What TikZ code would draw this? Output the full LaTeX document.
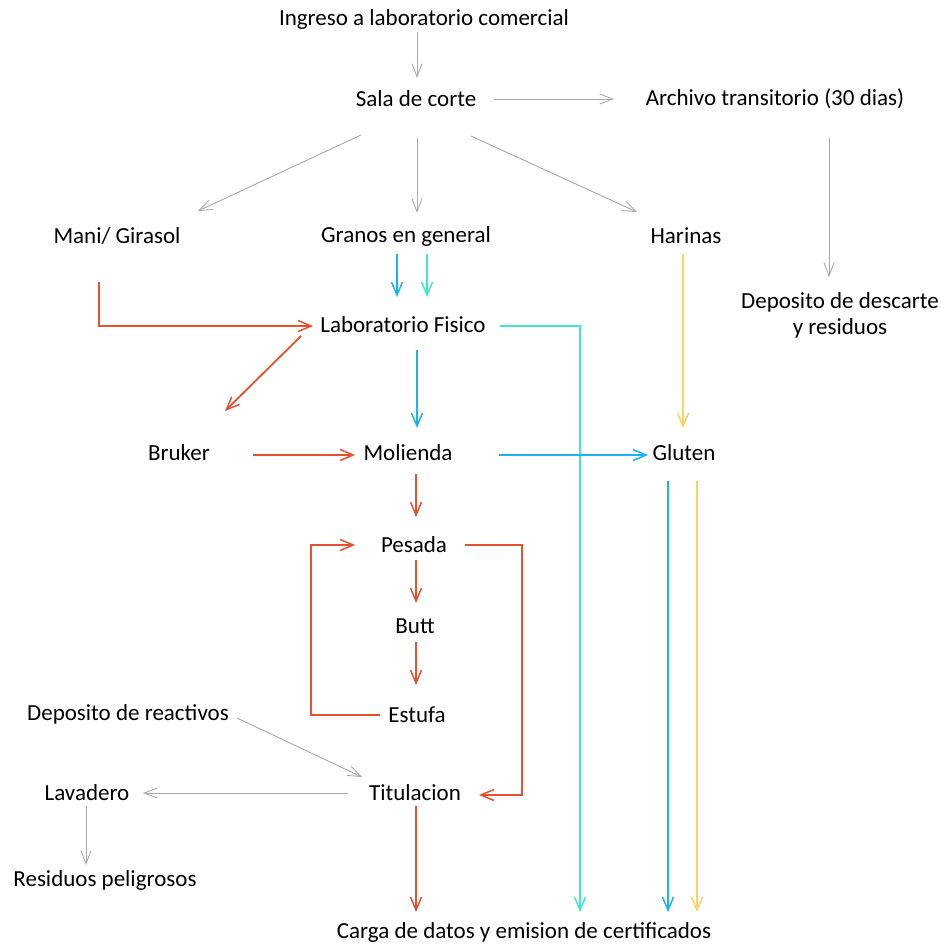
\documentclass[tikz,border=0pt]{standalone}
\usepackage{fontspec}
\setmainfont{Carlito}
\usetikzlibrary{arrows.meta,calc}
\definecolor{cred}{HTML}{E5502E}
\definecolor{cblue}{HTML}{1BB2EE}
\definecolor{cgreen}{HTML}{42E8C8}
\definecolor{cyellow}{HTML}{FAD462}
\definecolor{cgray}{HTML}{A8A8A8}
\tikzset{
  lbl/.style={inner sep=0pt, font=\fontsize{23}{26}\selectfont, text=black, align=center},
  garrow/.style={draw=cgray, line width=0.9pt, -{Straight Barb[length=13pt,width=10pt,line width=0.9pt]}},
  carrow/.style={line width=1.8pt, -{Straight Barb[length=13pt,width=11pt,line width=1.5pt]}},
  rarrow/.style={carrow, draw=cred},
  barrow/.style={carrow, draw=cblue},
  tarrow/.style={carrow, draw=cgreen},
  yarrow/.style={carrow, draw=cyellow},
}
\begin{document}
\begin{tikzpicture}[x=1pt,y=-1pt]
\useasboundingbox (0,0) rectangle (941,945);
\node[lbl] (ing) at (424,19) {Ingreso a laboratorio comercial};
\node[lbl] (sala) at (416,99) {Sala de corte};
\node[lbl] (arch) at (775,99) {Archivo transitorio (30 dias)};
\node[lbl] (mani) at (117,236) {Mani/ Girasol};
\node[lbl] (gran) at (406,236) {Granos en general};
\node[lbl] (har) at (686,236) {Harinas};
\node[lbl] (desc) at (840,315) {Deposito de descarte\\y residuos};
\node[lbl] (lab) at (403,325) {Laboratorio Fisico};
\node[lbl] (bruk) at (179,453) {Bruker};
\node[lbl] (mol) at (408,453) {Molienda};
\node[lbl] (glu) at (684,453) {Gluten};
\node[lbl] (pes) at (414,545) {Pesada};
\node[lbl] (butt) at (415,626) {Butt};
\node[lbl] (est) at (417,715) {Estufa};
\node[lbl] (dep) at (128,714) {Deposito de reactivos};
\node[lbl] (tit) at (415,793) {Titulacion};
\node[lbl] (lav) at (87,793) {Lavadero};
\node[lbl] (res) at (105,880) {Residuos peligrosos};
\node[lbl] (carga) at (524,932) {Carga de datos y emision de certificados};

% gray connectors
\draw[garrow] ($(ing)+(-7,13)$) -- ($(sala)+(1,-21)$);
\draw[garrow] ($(sala)+(78,0)$) -- ($(arch)+(-161,0)$);
\draw[garrow] ($(sala)+(-55,36)$) -- ($(mani)+(81,-25)$);
\draw[garrow] ($(sala)+(1,39)$) -- ($(gran)+(11,-23)$);
\draw[garrow] ($(sala)+(55,37)$) -- ($(har)+(-49,-24)$);
\draw[garrow] ($(arch)+(54,39)$) -- ($(desc)+(-11,-38)$);
\draw[garrow] ($(dep)+(109,4)$) -- ($(tit)+(-53,-16)$);
\draw[garrow] ($(tit)+(-67,0)$) -- ($(lav)+(56,0)$);
\draw[garrow] ($(lav)+(-1,13)$) -- ($(res)+(-19,-15)$);

% colored connectors
\draw[barrow] ($(gran)+(-9,18)$) -- ($(lab)+(-6,-28)$);
\draw[tarrow] ($(gran)+(21,18)$) -- ($(lab)+(24,-28)$);
\draw[rarrow] ($(mani)+(-18,46)$) |- ($(lab)+(-90,1)$);
\draw[rarrow] ($(lab)+(-102,11)$) -- ($(bruk)+(46,-42)$);
\draw[barrow] ($(lab)+(14,25)$) -- ($(mol)+(9,-25)$);
\draw[tarrow] ($(lab)+(97,1)$) -| ($(carga)+(56,-20)$);
\draw[yarrow] ($(har)+(-3,18)$) -- ($(glu)+(-1,-25)$);
\draw[rarrow] ($(bruk)+(74,2)$) -- ($(mol)+(-53,2)$);
\draw[barrow] ($(mol)+(91,2)$) -- ($(glu)+(-36,2)$);
\draw[rarrow] ($(mol)+(8,21)$) -- ($(pes)+(2,-28)$);
\draw[rarrow] ($(pes)+(2,15)$) -- ($(butt)+(1,-23)$);
\draw[rarrow] ($(butt)+(1,16)$) -- ($(est)+(-1,-30)$);
\draw[rarrow] ($(est)+(-37,0)$) -- ++(-69,0) |- ($(pes)+(-59,0)$);
\draw[rarrow] ($(pes)+(51,0)$) -- ++(57,0) |- ($(tit)+(64,2)$);
\draw[rarrow] ($(tit)+(1,13)$) -- ($(carga)+(-108,-20)$);
\draw[barrow] ($(glu)+(-16,28)$) -- ($(carga)+(144,-20)$);
\draw[yarrow] ($(glu)+(13,28)$) -- ($(carga)+(173,-20)$);
\end{tikzpicture}
\end{document}
